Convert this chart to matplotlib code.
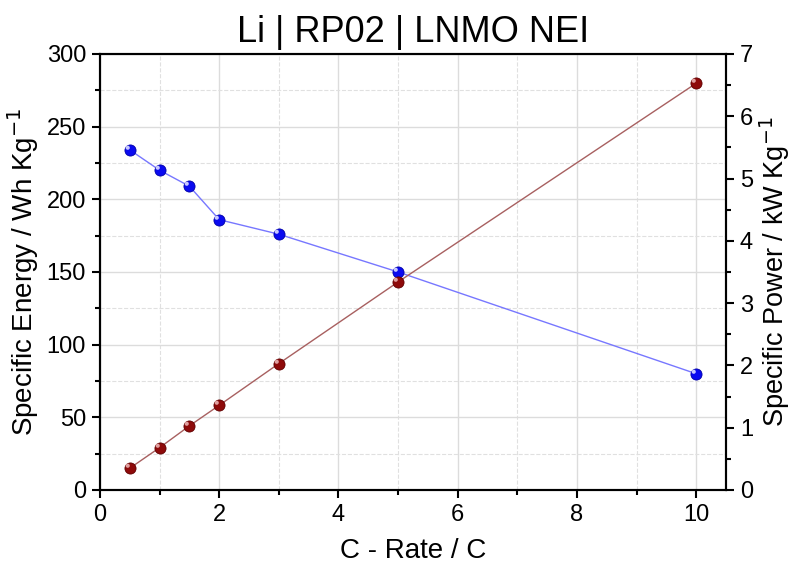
import numpy as np
import matplotlib.pyplot as plt
from matplotlib.path import Path
from matplotlib.ticker import MultipleLocator

plt.rcParams['font.family'] = ['Liberation Sans', 'DejaVu Sans']

c_rate = [0.5, 1, 1.5, 2, 3, 5, 10]
energy = [234, 220, 209, 186, 176, 150, 80]
power = [0.35, 0.68, 1.03, 1.36, 2.03, 3.34, 6.53]

# small off-centre dot to fake the shaded sphere look
shine = Path.circle(center=(-0.2, 0.2), radius=0.15)

fig = plt.figure(figsize=(7.93, 5.69), dpi=100)
ax = fig.add_axes([100/793, 1-490/569, 626/793, 436/569])
ax2 = ax.twinx()

ax.set_xlim(0, 10.5)
ax.set_ylim(0, 300)
ax2.set_ylim(0, 7)

ax.xaxis.set_major_locator(MultipleLocator(2))
ax.xaxis.set_minor_locator(MultipleLocator(1))
ax.yaxis.set_major_locator(MultipleLocator(50))
ax.yaxis.set_minor_locator(MultipleLocator(25))
ax2.yaxis.set_major_locator(MultipleLocator(1))
ax2.yaxis.set_minor_locator(MultipleLocator(0.5))

ax.grid(which='major', color='#dcdcdc', linewidth=1)
ax.grid(which='minor', color='#e0e0e0', linestyle='--', linewidth=0.8)
ax.set_axisbelow(True)

ax.plot(c_rate, energy, color='#7777ff', linewidth=1, zorder=3)
ax.plot(c_rate, energy, linestyle='none', marker='o', markersize=8,
        markerfacecolor='#0a0af0', markeredgecolor='#0000a8', markeredgewidth=0.6, zorder=4)
ax.plot(c_rate, energy, linestyle='none', marker=shine, markersize=7,
        markerfacecolor='#c8c8ff', markeredgewidth=0, zorder=5)

ax2.plot(c_rate, power, color='#a86060', linewidth=1, zorder=3)
ax2.plot(c_rate, power, linestyle='none', marker='o', markersize=8,
         markerfacecolor='#8e0a0a', markeredgecolor='#600000', markeredgewidth=0.6, zorder=4)
ax2.plot(c_rate, power, linestyle='none', marker=shine, markersize=7,
         markerfacecolor='#e0a0a0', markeredgewidth=0, zorder=5)

for a in (ax, ax2):
    for s in a.spines.values():
        s.set_linewidth(1.5)
    a.tick_params(which='major', direction='out', length=6, width=1.5, labelsize=17, pad=4)
    a.tick_params(which='minor', direction='out', length=3.5, width=1.5)

ax.set_xlabel('C - Rate / C', fontsize=20, labelpad=9)
ax.set_ylabel('Specific Energy / Wh Kg$^{-1}$', fontsize=20, labelpad=4)
ax2.set_ylabel('Specific Power / kW Kg$^{-1}$', fontsize=19.5, labelpad=3)
ax.set_title('Li | RP02 | LNMO NEI', fontsize=26, pad=9)

fig.savefig('out.png', dpi=100)
